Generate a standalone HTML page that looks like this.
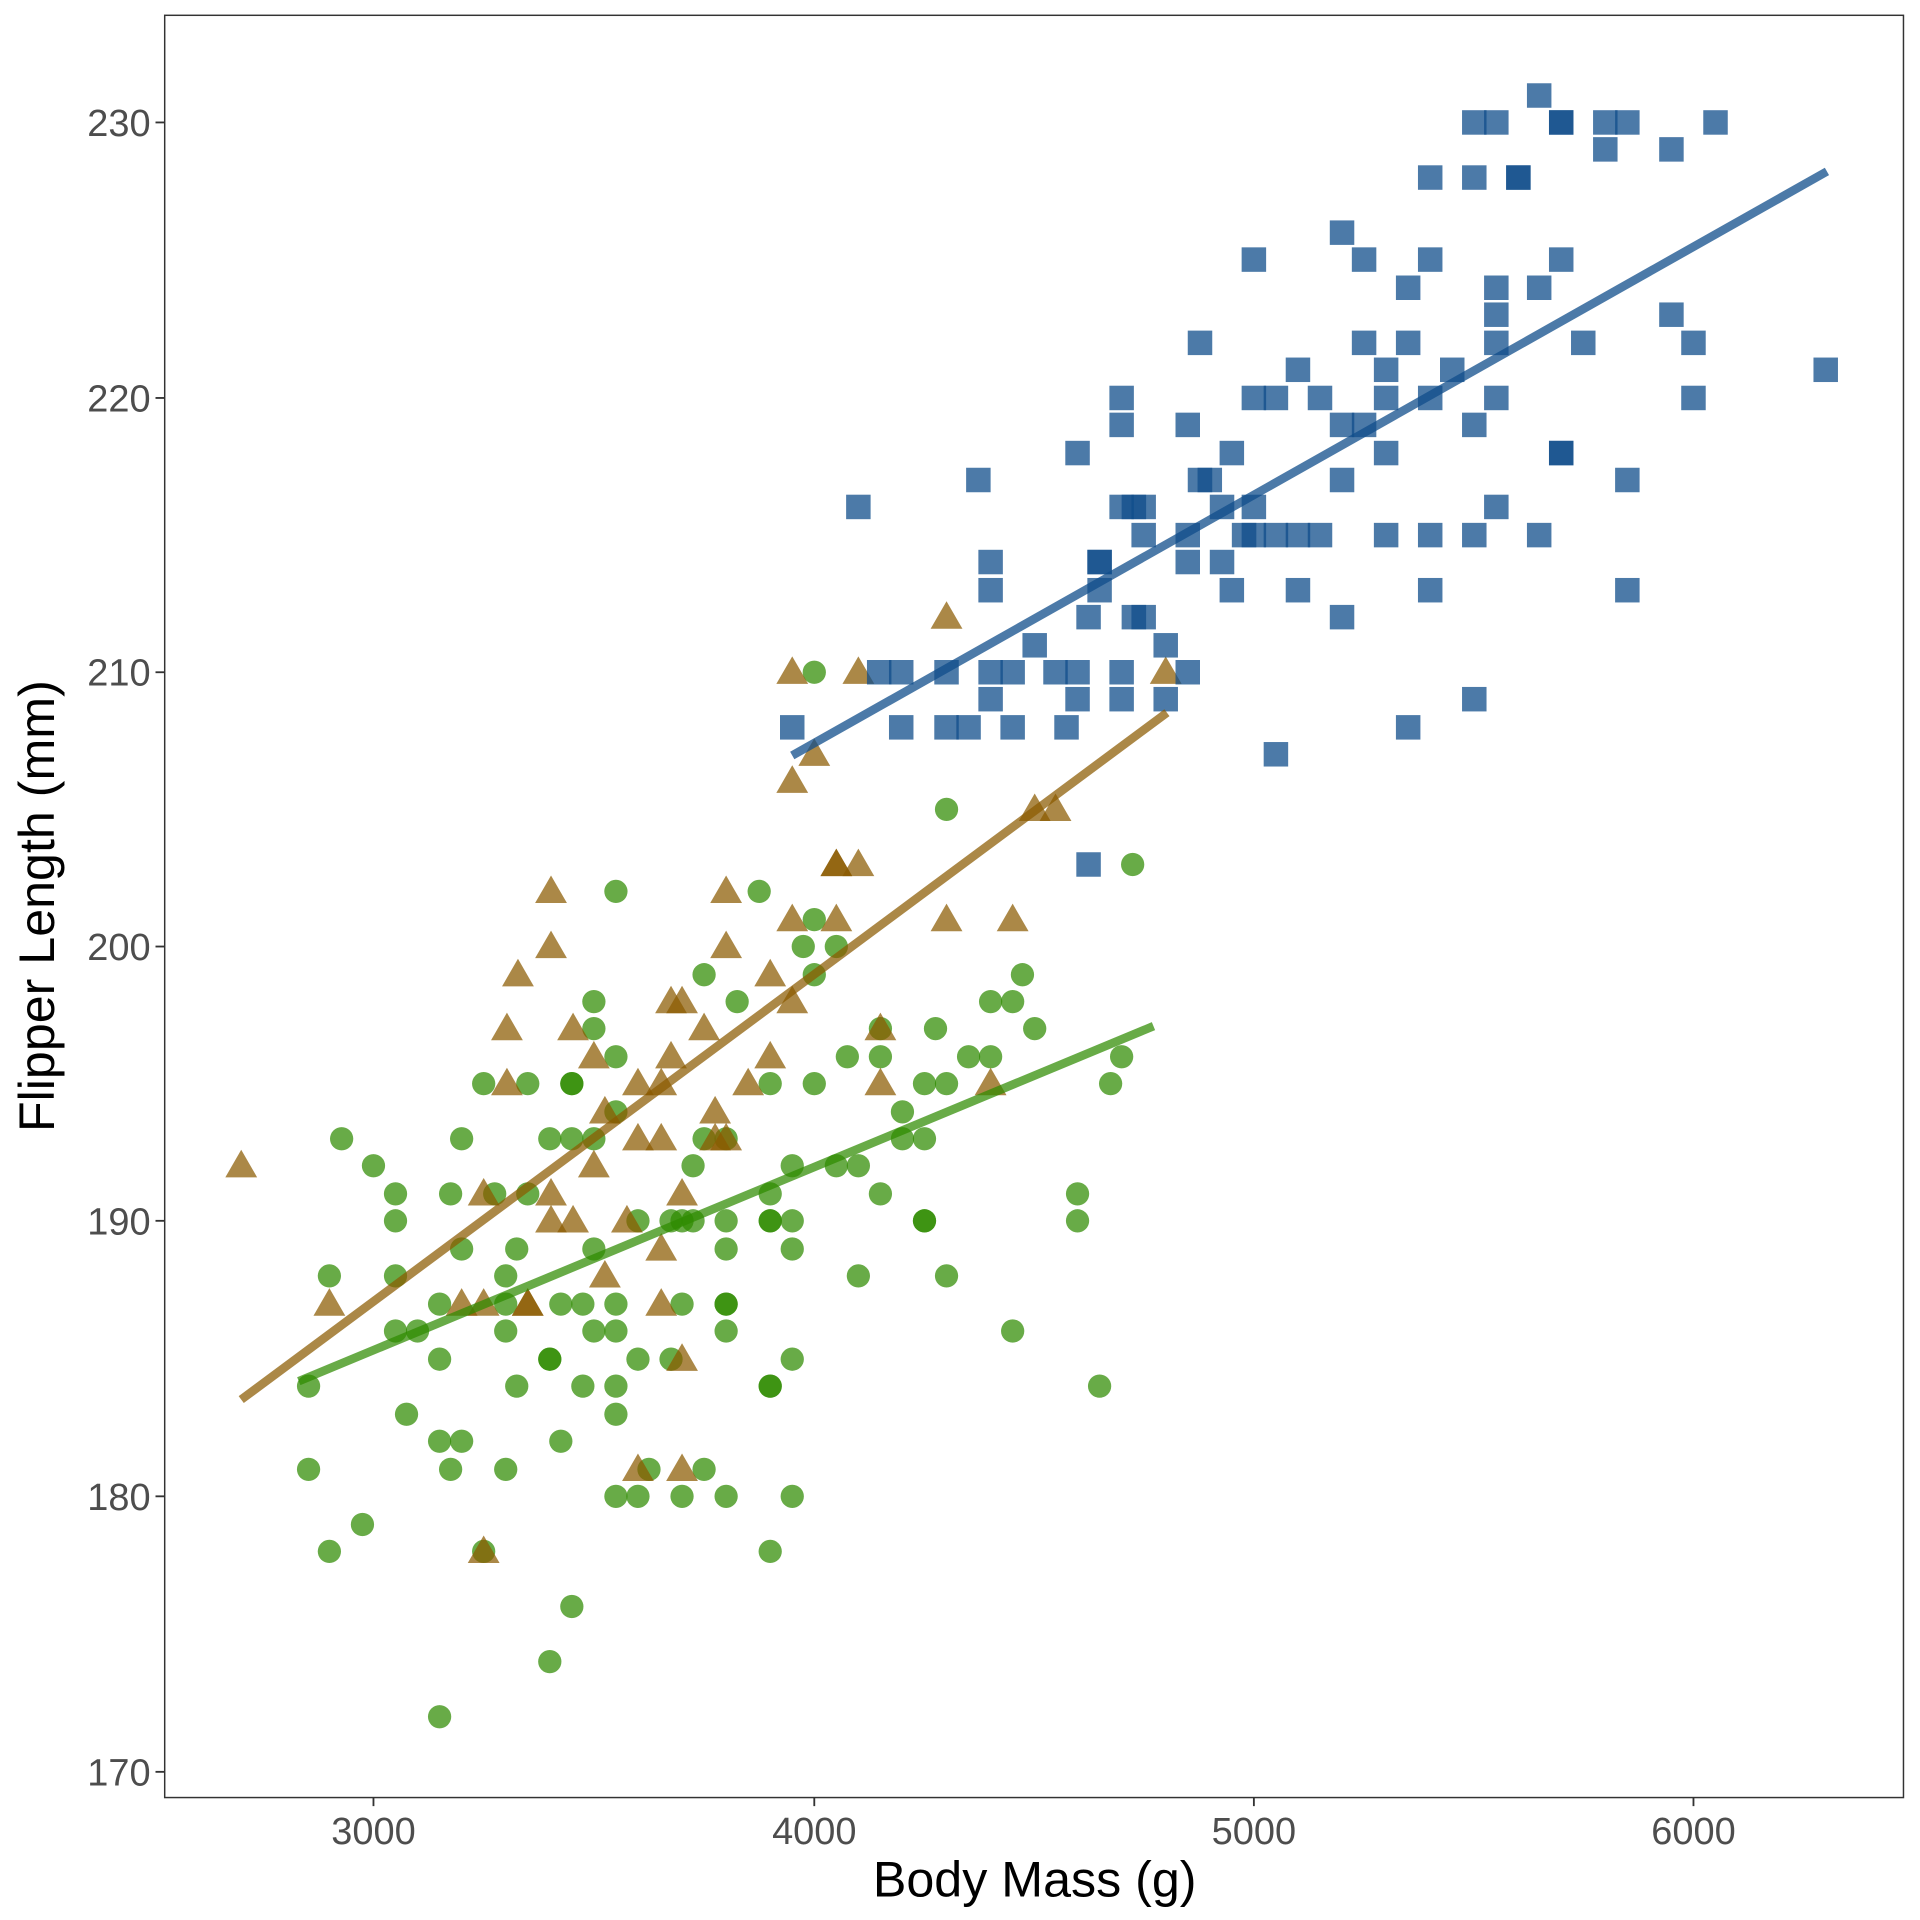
<!DOCTYPE html>
<html><head><meta charset="utf-8"><style>html,body{margin:0;padding:0;background:#fff}svg{display:block}</style></head>
<body>
<svg width="1920" height="1920" viewBox="0 0 1568 1568" xmlns="http://www.w3.org/2000/svg" xmlns:xlink="http://www.w3.org/1999/xlink" font-family="Liberation Sans, sans-serif">
<rect x="0" y="0" width="1568" height="1568" fill="#fff"/>
<defs>
<rect id="s" x="-10" y="-10" width="20" height="20" fill="#104E8B" fill-opacity="0.75"/>
<circle id="c" r="9.5" fill="#2E8B00" fill-opacity="0.72"/>
<polygon id="t" points="0,-13 13,9.5 -13,9.5" fill="#8B5A00" fill-opacity="0.72"/>
</defs>
<g>
<use href="#c" x="665" y="549"/><use href="#c" x="773" y="661"/><use href="#c" x="925" y="706"/>
<use href="#c" x="503" y="728"/><use href="#c" x="620" y="728"/><use href="#c" x="665" y="751"/>
<use href="#c" x="656" y="773"/><use href="#c" x="683" y="773"/>
<use href="#c" x="575" y="796"/><use href="#c" x="665" y="796"/><use href="#c" x="835" y="796"/>
<use href="#c" x="485" y="818"/><use href="#c" x="602" y="818"/><use href="#c" x="809" y="818"/><use href="#c" x="827" y="818"/>
<use href="#c" x="485" y="840"/><use href="#c" x="719" y="840"/><use href="#c" x="764" y="840"/><use href="#c" x="845" y="840"/>
<use href="#c" x="503" y="863"/><use href="#c" x="692" y="863"/><use href="#c" x="719" y="863"/><use href="#c" x="791" y="863"/><use href="#c" x="809" y="863"/><use href="#c" x="916" y="863"/>
<use href="#c" x="395" y="885"/><use href="#c" x="431" y="885"/><use href="#c" x="467" y="885"/><use href="#c" x="467" y="885"/><use href="#c" x="629" y="885"/><use href="#c" x="665" y="885"/><use href="#c" x="755" y="885"/><use href="#c" x="773" y="885"/><use href="#c" x="907" y="885"/>
<use href="#c" x="503" y="908"/><use href="#c" x="737" y="908"/>
<use href="#c" x="279" y="930"/><use href="#c" x="377" y="930"/><use href="#c" x="449" y="930"/><use href="#c" x="467" y="930"/><use href="#c" x="485" y="930"/><use href="#c" x="575" y="930"/><use href="#c" x="593" y="930"/><use href="#c" x="737" y="930"/><use href="#c" x="755" y="930"/>
<use href="#c" x="305" y="952"/><use href="#c" x="566" y="952"/><use href="#c" x="647" y="952"/><use href="#c" x="683" y="952"/><use href="#c" x="701" y="952"/>
<use href="#c" x="323" y="975"/><use href="#c" x="368" y="975"/><use href="#c" x="404" y="975"/><use href="#c" x="431" y="975"/><use href="#c" x="629" y="975"/><use href="#c" x="719" y="975"/><use href="#c" x="880" y="975"/>
<use href="#c" x="323" y="997"/><use href="#c" x="521" y="997"/><use href="#c" x="548" y="997"/><use href="#c" x="557" y="997"/><use href="#c" x="566" y="997"/><use href="#c" x="593" y="997"/><use href="#c" x="629" y="997"/><use href="#c" x="629" y="997"/><use href="#c" x="647" y="997"/><use href="#c" x="755" y="997"/><use href="#c" x="755" y="997"/><use href="#c" x="880" y="997"/>
<use href="#c" x="377" y="1020"/><use href="#c" x="422" y="1020"/><use href="#c" x="485" y="1020"/><use href="#c" x="593" y="1020"/><use href="#c" x="647" y="1020"/>
<use href="#c" x="269" y="1042"/><use href="#c" x="323" y="1042"/><use href="#c" x="413" y="1042"/><use href="#c" x="701" y="1042"/><use href="#c" x="773" y="1042"/>
<use href="#c" x="359" y="1065"/><use href="#c" x="413" y="1065"/><use href="#c" x="458" y="1065"/><use href="#c" x="476" y="1065"/><use href="#c" x="503" y="1065"/><use href="#c" x="557" y="1065"/><use href="#c" x="593" y="1065"/><use href="#c" x="593" y="1065"/>
<use href="#c" x="323" y="1087"/><use href="#c" x="341" y="1087"/><use href="#c" x="413" y="1087"/><use href="#c" x="485" y="1087"/><use href="#c" x="503" y="1087"/><use href="#c" x="593" y="1087"/><use href="#c" x="827" y="1087"/>
<use href="#c" x="359" y="1110"/><use href="#c" x="449" y="1110"/><use href="#c" x="449" y="1110"/><use href="#c" x="521" y="1110"/><use href="#c" x="548" y="1110"/><use href="#c" x="647" y="1110"/>
<use href="#c" x="252" y="1132"/><use href="#c" x="422" y="1132"/><use href="#c" x="476" y="1132"/><use href="#c" x="503" y="1132"/><use href="#c" x="629" y="1132"/><use href="#c" x="629" y="1132"/><use href="#c" x="898" y="1132"/>
<use href="#c" x="332" y="1155"/><use href="#c" x="503" y="1155"/>
<use href="#c" x="359" y="1177"/><use href="#c" x="377" y="1177"/><use href="#c" x="458" y="1177"/>
<use href="#c" x="252" y="1200"/><use href="#c" x="368" y="1200"/><use href="#c" x="413" y="1200"/><use href="#c" x="530" y="1200"/><use href="#c" x="575" y="1200"/>
<use href="#c" x="503" y="1222"/><use href="#c" x="521" y="1222"/><use href="#c" x="557" y="1222"/><use href="#c" x="593" y="1222"/><use href="#c" x="647" y="1222"/>
<use href="#c" x="296" y="1245"/><use href="#c" x="269" y="1267"/><use href="#c" x="395" y="1267"/><use href="#c" x="629" y="1267"/>
<use href="#c" x="467" y="1312"/><use href="#c" x="449" y="1357"/><use href="#c" x="359" y="1402"/>
</g>
<g>
<use href="#t" x="773" y="504"/><use href="#t" x="647" y="549"/><use href="#t" x="701" y="549"/><use href="#t" x="952" y="549"/>
<use href="#t" x="665" y="616"/><use href="#t" x="647" y="638"/><use href="#t" x="845" y="661"/><use href="#t" x="862" y="661"/>
<use href="#t" x="683" y="706"/><use href="#t" x="683" y="706"/><use href="#t" x="701" y="706"/>
<use href="#t" x="450" y="728"/><use href="#t" x="593" y="728"/>
<use href="#t" x="647" y="751"/><use href="#t" x="683" y="751"/><use href="#t" x="773" y="751"/><use href="#t" x="827" y="751"/>
<use href="#t" x="450" y="773"/><use href="#t" x="593" y="773"/><use href="#t" x="423" y="796"/><use href="#t" x="629" y="796"/>
<use href="#t" x="548" y="818"/><use href="#t" x="557" y="818"/><use href="#t" x="647" y="818"/>
<use href="#t" x="414" y="840"/><use href="#t" x="468" y="840"/><use href="#t" x="575" y="840"/><use href="#t" x="719" y="840"/>
<use href="#t" x="485" y="863"/><use href="#t" x="548" y="863"/><use href="#t" x="629" y="863"/>
<use href="#t" x="414" y="885"/><use href="#t" x="521" y="885"/><use href="#t" x="540" y="885"/><use href="#t" x="611" y="885"/><use href="#t" x="719" y="885"/><use href="#t" x="809" y="885"/>
<use href="#t" x="494" y="908"/><use href="#t" x="584" y="908"/>
<use href="#t" x="521" y="930"/><use href="#t" x="540" y="930"/><use href="#t" x="584" y="930"/><use href="#t" x="593" y="930"/>
<use href="#t" x="197" y="952"/><use href="#t" x="485" y="952"/>
<use href="#t" x="395" y="975"/><use href="#t" x="450" y="975"/><use href="#t" x="557" y="975"/>
<use href="#t" x="450" y="997"/><use href="#t" x="468" y="997"/><use href="#t" x="512" y="997"/>
<use href="#t" x="540" y="1020"/><use href="#t" x="494" y="1042"/>
<use href="#t" x="269" y="1065"/><use href="#t" x="377" y="1065"/><use href="#t" x="395" y="1065"/><use href="#t" x="431" y="1065"/><use href="#t" x="431" y="1065"/><use href="#t" x="540" y="1065"/>
<use href="#t" x="557" y="1110"/><use href="#t" x="521" y="1200"/><use href="#t" x="557" y="1200"/><use href="#t" x="395" y="1267"/>
</g>
<g>
<use href="#s" x="1204" y="100"/><use href="#s" x="1222" y="100"/><use href="#s" x="1275" y="100"/><use href="#s" x="1275" y="100"/><use href="#s" x="1311" y="100"/><use href="#s" x="1329" y="100"/><use href="#s" x="1401" y="100"/>
<use href="#s" x="1257" y="78"/><use href="#s" x="1311" y="122"/><use href="#s" x="1365" y="122"/>
<use href="#s" x="1168" y="145"/><use href="#s" x="1204" y="145"/><use href="#s" x="1240" y="145"/><use href="#s" x="1240" y="145"/>
<use href="#s" x="1096" y="190"/>
<use href="#s" x="1024" y="212"/><use href="#s" x="1114" y="212"/><use href="#s" x="1168" y="212"/><use href="#s" x="1275" y="212"/>
<use href="#s" x="1150" y="235"/><use href="#s" x="1222" y="235"/><use href="#s" x="1257" y="235"/>
<use href="#s" x="1222" y="257"/><use href="#s" x="1365" y="257"/>
<use href="#s" x="980" y="280"/><use href="#s" x="1114" y="280"/><use href="#s" x="1150" y="280"/><use href="#s" x="1222" y="280"/><use href="#s" x="1293" y="280"/><use href="#s" x="1383" y="280"/>
<use href="#s" x="1060" y="302"/><use href="#s" x="1132" y="302"/><use href="#s" x="1186" y="302"/><use href="#s" x="1491" y="302"/>
<use href="#s" x="916" y="325"/><use href="#s" x="1024" y="325"/><use href="#s" x="1042" y="325"/><use href="#s" x="1078" y="325"/><use href="#s" x="1132" y="325"/><use href="#s" x="1168" y="325"/><use href="#s" x="1222" y="325"/><use href="#s" x="1383" y="325"/>
<use href="#s" x="916" y="347"/><use href="#s" x="970" y="347"/><use href="#s" x="1096" y="347"/><use href="#s" x="1114" y="347"/><use href="#s" x="1204" y="347"/>
<use href="#s" x="880" y="370"/><use href="#s" x="1006" y="370"/><use href="#s" x="1132" y="370"/><use href="#s" x="1275" y="370"/><use href="#s" x="1275" y="370"/>
<use href="#s" x="799" y="392"/><use href="#s" x="980" y="392"/><use href="#s" x="988" y="392"/><use href="#s" x="1096" y="392"/><use href="#s" x="1329" y="392"/>
<use href="#s" x="701" y="414"/><use href="#s" x="916" y="414"/><use href="#s" x="926" y="414"/><use href="#s" x="934" y="414"/><use href="#s" x="998" y="414"/><use href="#s" x="1024" y="414"/><use href="#s" x="1222" y="414"/>
<use href="#s" x="934" y="437"/><use href="#s" x="970" y="437"/><use href="#s" x="1016" y="437"/><use href="#s" x="1024" y="437"/><use href="#s" x="1042" y="437"/><use href="#s" x="1060" y="437"/><use href="#s" x="1078" y="437"/><use href="#s" x="1132" y="437"/><use href="#s" x="1168" y="437"/><use href="#s" x="1204" y="437"/><use href="#s" x="1257" y="437"/>
<use href="#s" x="809" y="459"/><use href="#s" x="898" y="459"/><use href="#s" x="898" y="459"/><use href="#s" x="970" y="459"/><use href="#s" x="998" y="459"/>
<use href="#s" x="809" y="482"/><use href="#s" x="898" y="482"/><use href="#s" x="1006" y="482"/><use href="#s" x="1060" y="482"/><use href="#s" x="1168" y="482"/><use href="#s" x="1329" y="482"/>
<use href="#s" x="889" y="504"/><use href="#s" x="926" y="504"/><use href="#s" x="934" y="504"/><use href="#s" x="1096" y="504"/>
<use href="#s" x="845" y="527"/><use href="#s" x="952" y="527"/>
<use href="#s" x="718" y="549"/><use href="#s" x="736" y="549"/><use href="#s" x="773" y="549"/><use href="#s" x="809" y="549"/><use href="#s" x="827" y="549"/><use href="#s" x="862" y="549"/><use href="#s" x="880" y="549"/><use href="#s" x="916" y="549"/><use href="#s" x="970" y="549"/>
<use href="#s" x="809" y="571"/><use href="#s" x="880" y="571"/><use href="#s" x="916" y="571"/><use href="#s" x="952" y="571"/><use href="#s" x="1204" y="571"/>
<use href="#s" x="647" y="594"/><use href="#s" x="736" y="594"/><use href="#s" x="773" y="594"/><use href="#s" x="791" y="594"/><use href="#s" x="827" y="594"/><use href="#s" x="871" y="594"/><use href="#s" x="1150" y="594"/>
<use href="#s" x="1042" y="616"/><use href="#s" x="889" y="706"/>
</g>
<line x1="647" y1="617" x2="1492" y2="140" stroke="#104E8B" stroke-opacity="0.75" stroke-width="7"/>
<line x1="197" y1="1143" x2="953" y2="582" stroke="#8B5A00" stroke-opacity="0.72" stroke-width="7"/>
<line x1="244" y1="1128" x2="942" y2="838" stroke="#2E8B00" stroke-opacity="0.72" stroke-width="7"/>
<rect x="134.5" y="12.5" width="1420" height="1455.5" fill="none" stroke="#333" stroke-width="1.2"/>
<g stroke="#333" stroke-width="1.5">
<line x1="127" y1="100" x2="134" y2="100"/><line x1="127" y1="325" x2="134" y2="325"/><line x1="127" y1="549" x2="134" y2="549"/><line x1="127" y1="773" x2="134" y2="773"/><line x1="127" y1="997" x2="134" y2="997"/><line x1="127" y1="1222" x2="134" y2="1222"/><line x1="127" y1="1447" x2="134" y2="1447"/>
<line x1="305" y1="1468" x2="305" y2="1475"/><line x1="665" y1="1468" x2="665" y2="1475"/><line x1="1024" y1="1468" x2="1024" y2="1475"/><line x1="1383" y1="1468" x2="1383" y2="1475"/>
</g>
<g fill="#4d4d4d" font-size="31" text-anchor="end">
<text x="123" y="111">230</text><text x="123" y="336">220</text><text x="123" y="560">210</text><text x="123" y="784">200</text><text x="123" y="1008">190</text><text x="123" y="1233">180</text><text x="123" y="1458">170</text>
</g>
<g fill="#4d4d4d" font-size="31" text-anchor="middle">
<text x="305" y="1506">3000</text><text x="665" y="1506">4000</text><text x="1024" y="1506">5000</text><text x="1383" y="1506">6000</text>
</g>
<text x="845" y="1549" font-size="41" text-anchor="middle" fill="#000">Body Mass (g)</text>
<text transform="translate(44,740) rotate(-90)" font-size="41" text-anchor="middle" fill="#000">Flipper Length (mm)</text>
</svg>
</body></html>
